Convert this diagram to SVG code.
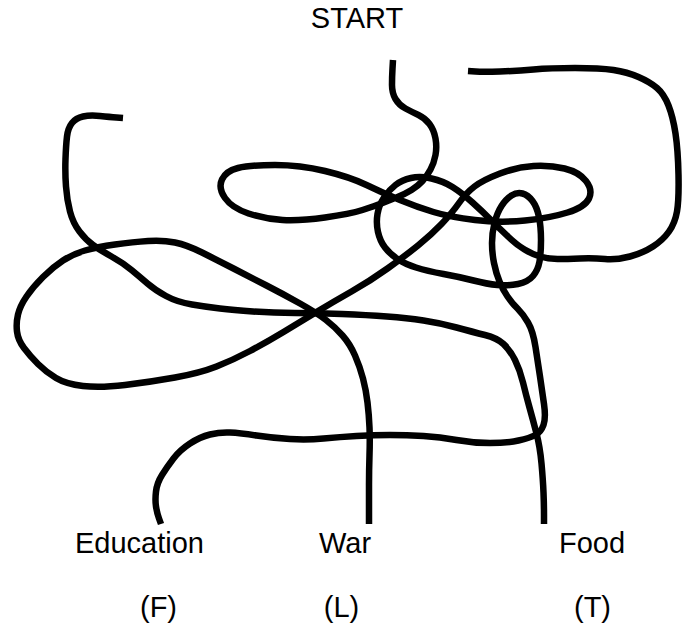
<svg xmlns="http://www.w3.org/2000/svg" width="685" height="630" viewBox="0 0 685 630">
<style>
.ln{fill:none;stroke:#000;stroke-width:6.5;stroke-linecap:butt;stroke-linejoin:round}
.lb{font-family:"Liberation Sans",Arial,sans-serif;font-size:29px;fill:#000;text-anchor:middle}
</style>
<rect width="685" height="630" fill="#fff"/>
<g id="lines">
<path id="line-start-war" class="ln" d="M393,60 L392.5,68.5 Q392,77 392,85 Q392,93 395.5,99 Q399,105 405.5,108.5 Q412,112 418.5,115 Q425,118 429.5,124 Q434,130 435.5,138.5 Q437,147 435.5,155 Q434,163 430.5,169.5 Q427,176 422.5,181 Q418,186 411.5,190 Q405,194 397.5,197 Q390,200 382.5,203 Q375,206 362.5,210 Q350,214 325,217.5 Q300,221 282.5,220 Q265,219 248.5,213.5 Q232,208 225,198 Q218,188 222,179.5 Q226,171 238,168 Q250,165 275,165 Q300,165 325,171 Q350,177 366.5,185 Q383,193 400,200 Q417,207 433.5,212 Q450,217 475,220 Q500,223 525,220.5 Q550,218 567.5,212.5 Q585,207 589,198.5 Q593,190 586,181 Q579,172 564.5,168.5 Q550,165 533.5,166 Q517,167 500,173.5 Q483,180 474.5,186.5 Q466,193 459,203 Q452,213 441.5,224 Q431,235 418,245.5 Q405,256 387.5,268.5 Q370,281 351.5,291.5 Q333,302 316.5,312 Q300,322 283.5,332 Q267,342 250,351 Q233,360 216.5,366.5 Q200,373 175,377.5 Q150,382 125,385 Q100,388 83,386 Q66,384 56,378 Q46,372 38,364 Q30,356 24,348 Q18,340 17,331.5 Q16,323 18,314.5 Q20,306 26.5,296.5 Q33,287 43,277 Q53,267 63,260.5 Q73,254 85,250.5 Q97,247 115,244.5 Q133,242 148,241 Q163,240 175,242.5 Q187,245 202,252.5 Q217,260 233.5,268.5 Q250,277 266.5,285.5 Q283,294 300,303.5 Q317,313 326,320 Q335,327 342.5,335.5 Q350,344 355,355.5 Q360,367 363,378.5 Q366,390 367.5,402.5 Q369,415 369.5,427.5 Q370,440 369.5,455 Q369,470 369,485 Q369,500 369,512 L369,524"/>
<path id="line-hook-food" class="ln" d="M123,118 L116.5,117.5 Q110,117 100,116 Q90,115 83,116.5 Q76,118 72,123 Q68,128 67,136.5 Q66,145 65.5,159 Q65,173 66,186.5 Q67,200 70,211.5 Q73,223 79.5,231.5 Q86,240 93,245 Q100,250 111.5,256.5 Q123,263 131.5,270 Q140,277 147.5,283.5 Q155,290 166,296 Q177,302 192,304.5 Q207,307 220,308.5 Q233,310 253,311.5 Q273,313 295,313 Q317,313 342,314 Q367,315 387,316.5 Q407,318 423.5,320.5 Q440,323 456.5,327.5 Q473,332 485,335 Q497,338 503.5,344 Q510,350 515,360 Q520,370 523,382.5 Q526,395 529.5,407.5 Q533,420 536.5,433.5 Q540,447 541.5,463.5 Q543,480 543.5,492.5 Q544,505 544,514.5 L544,524"/>
<path id="line-top-education" class="ln" d="M468,71 L475.5,71.5 Q483,72 500,71.5 Q517,71 533.5,69.5 Q550,68 575,68 Q600,68 613.5,70 Q627,72 638.5,77 Q650,82 657,88 Q664,94 668.5,105.5 Q673,117 675.5,133.5 Q678,150 678.5,175 Q679,200 677,211.5 Q675,223 669,231.5 Q663,240 653,246.5 Q643,253 630,256.5 Q617,260 605,259 Q593,258 580,258.5 Q567,259 557.5,259 Q548,259 540,256.5 Q532,254 524.5,249.5 Q517,245 508.5,237 Q500,229 491.5,220.5 Q483,212 472.5,202.5 Q462,193 452.5,187 Q443,181 431.5,178.5 Q420,176 411,178 Q402,180 395.5,185 Q389,190 384,197.5 Q379,205 377.5,214 Q376,223 378,232 Q380,241 385,247.5 Q390,254 397.5,259 Q405,264 416,267.5 Q427,271 443.5,274 Q460,277 473.5,280.5 Q487,284 497.5,285 Q508,286 518,284 Q528,282 533,276 Q538,270 539.5,261.5 Q541,253 541,240 Q541,227 539,217 Q537,207 532.5,201 Q528,195 522.5,193.5 Q517,192 511.5,195.5 Q506,199 501.5,206 Q497,213 494.5,223 Q492,233 492,243 Q492,253 494,263 Q496,273 499.5,281.5 Q503,290 507.5,296.5 Q512,303 517.5,308.5 Q523,314 528,322.5 Q533,331 535.5,347 Q538,363 540,376.5 Q542,390 544,404 Q546,418 543.5,425 Q541,432 535.5,435 Q530,438 518.5,440.5 Q507,443 490,443 Q473,443 456.5,440 Q440,437 423.5,436 Q407,435 390,435 Q373,435 356.5,436 Q340,437 323.5,438.5 Q307,440 290,439 Q273,438 256.5,435.5 Q240,433 230,432.5 Q220,432 210,434.5 Q200,437 190,443.5 Q180,450 173.5,458.5 Q167,467 162,475 Q157,483 156,491.5 Q155,500 156,506.5 Q157,513 159,518.5 L161,524"/>
</g>
<g id="labels">
<g id="start"><text class="lb" x="357" y="28">START</text></g>
<g id="education"><text class="lb" x="139.5" y="553">Education</text><text class="lb" x="158.5" y="617">(F)</text></g>
<g id="war"><text class="lb" x="345" y="553">War</text><text class="lb" x="341.5" y="617">(L)</text></g>
<g id="food"><text class="lb" x="592" y="553">Food</text><text class="lb" x="592.5" y="617">(T)</text></g>
</g>
</svg>
